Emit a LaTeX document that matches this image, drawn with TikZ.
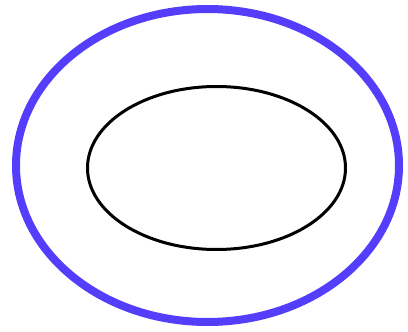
\documentclass[tikz,border=0pt]{standalone}
\definecolor{ringblue}{RGB}{84,62,252}
\begin{document}
\begin{tikzpicture}[x=1pt,y=-1pt,
  outerring/.style={draw=ringblue,line width=8pt},
  innerring/.style={draw=black,line width=3pt}]
\useasboundingbox (0,0) rectangle (408,332);
\draw[outerring] (207.5,165.5) ellipse [x radius=191.5, y radius=156.5];
\draw[innerring] (216.5,168) ellipse [x radius=129, y radius=81.5];
\end{tikzpicture}
\end{document}
